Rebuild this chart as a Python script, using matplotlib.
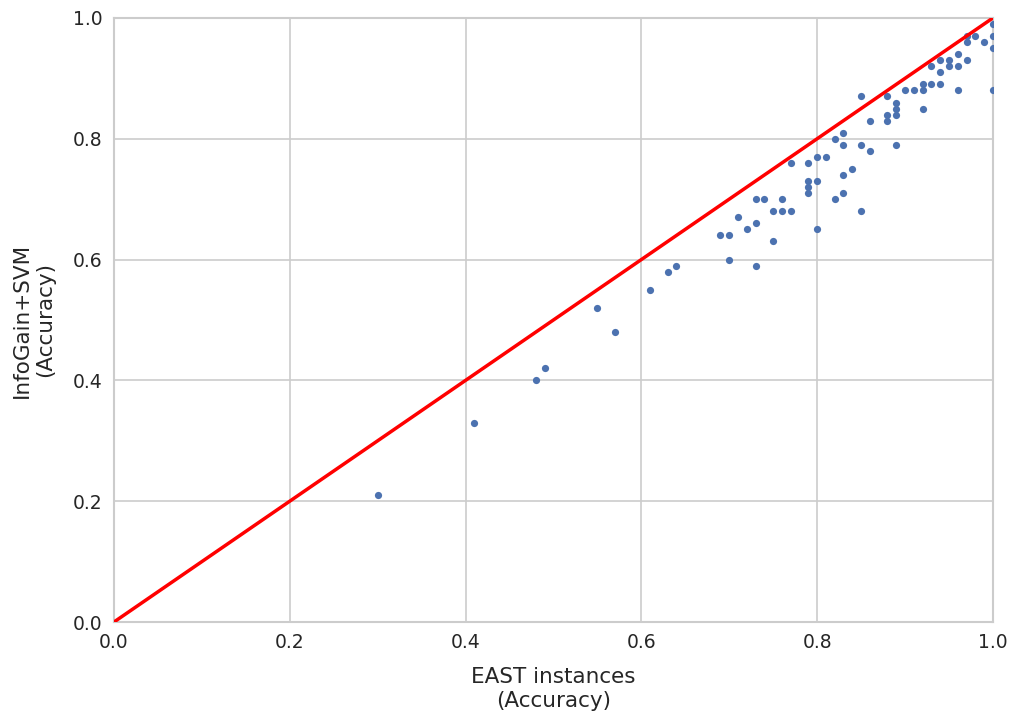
import matplotlib
matplotlib.use("Agg")
import matplotlib.pyplot as plt

# accuracy per dataset: EAST instances (x) vs InfoGain+SVM (y)
east = [0.30, 0.41, 0.48, 0.49, 0.55, 0.57, 0.61, 0.63, 0.64,
        0.69, 0.70, 0.70, 0.71, 0.72, 0.73, 0.73, 0.73, 0.74, 0.75, 0.75,
        0.76, 0.76, 0.77, 0.77, 0.79, 0.79, 0.79, 0.79, 0.80, 0.80, 0.80,
        0.81, 0.82, 0.82, 0.83, 0.83, 0.83, 0.83, 0.84, 0.85, 0.85, 0.85,
        0.86, 0.86, 0.88, 0.88, 0.88, 0.89, 0.89, 0.89, 0.89, 0.90, 0.91,
        0.92, 0.92, 0.92, 0.93, 0.93, 0.94, 0.94, 0.94, 0.95, 0.95,
        0.96, 0.96, 0.96, 0.97, 0.97, 0.97, 0.98, 0.99,
        1.00, 1.00, 1.00, 1.00]
infogain = [0.21, 0.33, 0.40, 0.42, 0.52, 0.48, 0.55, 0.58, 0.59,
            0.64, 0.64, 0.60, 0.67, 0.65, 0.70, 0.66, 0.59, 0.70, 0.68, 0.63,
            0.70, 0.68, 0.76, 0.68, 0.76, 0.73, 0.72, 0.71, 0.77, 0.73, 0.65,
            0.77, 0.80, 0.70, 0.81, 0.79, 0.74, 0.71, 0.75, 0.87, 0.79, 0.68,
            0.83, 0.78, 0.87, 0.84, 0.83, 0.86, 0.85, 0.84, 0.79, 0.88, 0.88,
            0.89, 0.88, 0.85, 0.92, 0.89, 0.93, 0.91, 0.89, 0.93, 0.92,
            0.94, 0.92, 0.88, 0.97, 0.96, 0.93, 0.97, 0.96,
            0.99, 0.97, 0.95, 0.88]

diag = [0.0, 1.0]

fig = plt.figure(figsize=(10.14, 7.18), dpi=100)
ax = fig.add_axes([0.1124, 0.1337, 0.8668, 0.8413])

ax.set_facecolor("white")
ax.grid(True, color="#cccccc", linewidth=1.2)
ax.set_axisbelow(True)
for s in ax.spines.values():
    s.set_color("#cccccc")
    s.set_linewidth(1.5)

ax.plot(east, infogain, "o", color="#4c72b0", markersize=5.2, markeredgewidth=0, zorder=3)
ax.plot(diag, diag, color="red", linewidth=2.5, zorder=4)

ax.set_xlim(0, 1)
ax.set_ylim(0, 1)
ticks = [0.0, 0.2, 0.4, 0.6, 0.8, 1.0]
ax.set_xticks(ticks)
ax.set_yticks(ticks)
ax.tick_params(length=0, pad=8, labelsize=13.5, labelcolor="#262626")

ax.set_xlabel("EAST instances\n(Accuracy)", fontsize=15.5, color="#262626", labelpad=11)
ax.set_ylabel("InfoGain+SVM\n(Accuracy)", fontsize=15.5, color="#262626", labelpad=13)

fig.savefig("out.png", dpi=100)
